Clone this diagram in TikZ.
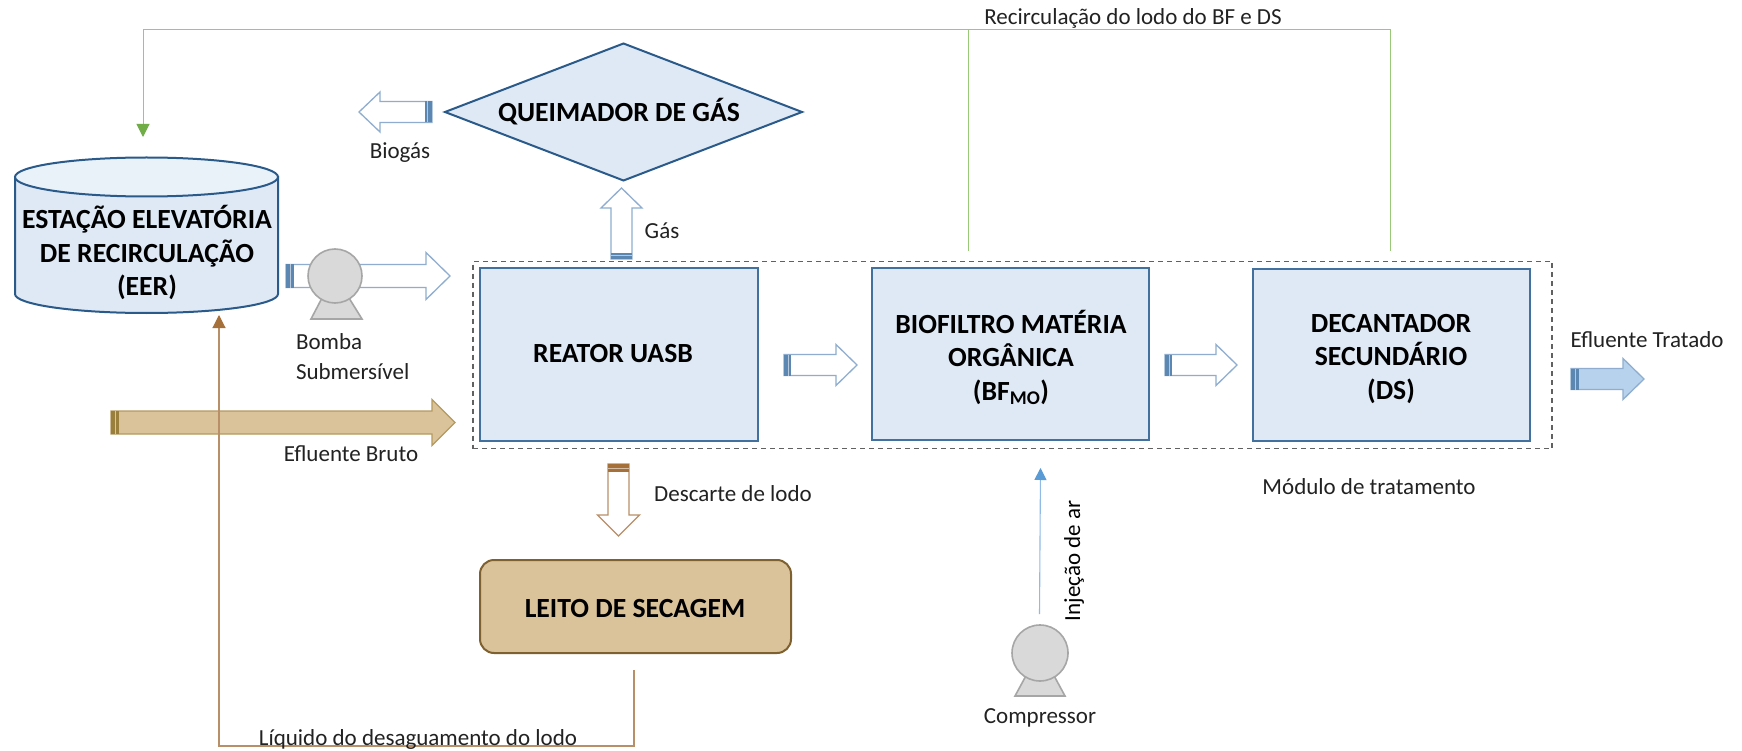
\documentclass[tikz,border=0pt]{standalone}
\usepackage{fontspec}
\setmainfont{Carlito}
\usetikzlibrary{calc,arrows.meta,shapes.geometric}
\definecolor{boxfill}{HTML}{DEE9F5}
\definecolor{boxedge}{HTML}{41719C}
\definecolor{darkedge}{HTML}{2A5A8A}
\definecolor{topfill}{HTML}{E9F1F9}
\definecolor{arrowedge}{HTML}{8FAECF}
\definecolor{bandblue}{HTML}{5B87B2}
\definecolor{tan}{HTML}{DAC39A}
\definecolor{tanedge}{HTML}{B49A5E}
\definecolor{tanband}{HTML}{9A7F3C}
\definecolor{brownline}{HTML}{B98F68}
\definecolor{brownhead}{HTML}{A5703A}
\definecolor{leitoedge}{HTML}{7F6030}
\definecolor{greenline}{HTML}{9AC879}
\definecolor{greenhead}{HTML}{70AD47}
\definecolor{blueline}{HTML}{8FBBE6}
\definecolor{bluehead}{HTML}{5B9BD5}
\definecolor{pumpfill}{HTML}{D9D9D9}
\definecolor{pumpedge}{HTML}{A6A6A6}
\definecolor{treated}{HTML}{B7D2EC}
\definecolor{labeltxt}{HTML}{222222}
\tikzset{
  x=1pt,y=-1pt,
  every node/.style={inner sep=0pt,outer sep=0pt,align=center},
  boldtxt/.style={text=black,font=\fontsize{27.7}{33.5}\selectfont\bfseries},
  unit/.style={draw=boxedge,line width=2pt,fill=boxfill,boldtxt},
  label/.style={text=labeltxt,font=\fontsize{23}{30}\selectfont},
  hollow/.style={draw=arrowedge,fill=white,line width=1.3pt},
  pumpbody/.style={draw=pumpedge,fill=pumpfill,line width=1.6pt},
  flowgreen/.style={draw=greenline,line width=1pt},
  flowbrown/.style={draw=brownline,line width=1.1pt},
  flowblue/.style={draw=blueline,line width=1.1pt},
}
% \blockarrow{style}{band colour}{from}{to}{half shaft}{half head}{head length}{band}
\newcommand{\blockarrow}[8]{%
  \coordinate (hb) at ($(#4)!#7pt!(#3)$);
  \coordinate (bb) at ($(#3)!#8pt!(#4)$);
  \coordinate (bm) at ($(#3)!0.6!(bb)$);
  \draw[#1,line join=miter] ($(#3)!#5pt!90:(#4)$) -- ($(hb)!#5pt!90:(#4)$) -- ($(hb)!#6pt!90:(#4)$) -- (#4)
    -- ($(hb)!#6pt!-90:(#4)$) -- ($(hb)!#5pt!-90:(#4)$) -- ($(#3)!#5pt!-90:(#4)$) -- cycle;
  \fill[#2] ($(#3)!#5pt!90:(#4)$) -- ($(bb)!#5pt!90:(#4)$) -- ($(bb)!#5pt!-90:(#4)$) -- ($(#3)!#5pt!-90:(#4)$) -- cycle;
  \draw[white,opacity=.55,line width=1pt] ($(bm)!#5pt!90:(#4)$) -- ($(bm)!#5pt!-90:(#4)$);
}
\begin{document}
\begin{tikzpicture}
\useasboundingbox (0,0) rectangle (1742,751);
\fill[white] (0,0) rectangle (1742,751);

% dashed module frame
\node[draw=black!62,line width=1.2pt,minimum width=1079pt,minimum height=187.5pt,dash pattern=on 5pt off 4pt] (modulo) at (1012.5,355) {};

% units
\node[unit,minimum width=278pt,minimum height=172pt] (uasb) at (619,354.5) {};
\node[boldtxt] (uasbtxt) at (613,354) {REATOR UASB};
\node[unit,minimum width=277pt,minimum height=171pt] (bf) at (1010.5,354) {};
\node[boldtxt] (bftxt) at (1011,357.5) {BIOFILTRO MATÉRIA\\ORGÂNICA\\(BF\textsubscript{MO})};
\node[unit,minimum width=277pt,minimum height=172pt] (ds) at (1391.5,355) {};
\node[boldtxt] (dstxt) at (1391,359) {DECANTADOR\\SECUNDÁRIO\\(DS)};
\node[unit,draw=darkedge,shape=diamond,aspect=2.6,minimum width=357pt,minimum height=137pt,inner sep=0pt] (gas) at (623.5,112) {};
\node[boldtxt] (gastxt) at (619,112) {QUEIMADOR DE GÁS};
\node[unit,draw=leitoedge,fill=tan,rounded corners=14pt,minimum width=311pt,minimum height=93pt] (leito) at (635.5,606.5) {};
\node[boldtxt] (leitotxt) at (635,608.5) {LEITO DE SECAGEM};

% EER tank
\draw[draw=darkedge,line width=2pt,fill=boxfill] (15,177) -- (15,294) arc[start angle=180,end angle=0,x radius=131.5,y radius=19] -- (278,177) -- cycle;
\draw[draw=darkedge,line width=2pt,fill=topfill] (146.5,177) ellipse[x radius=131.5,y radius=19.5];
\node[boldtxt] (eer) at (147,252.5) {ESTAÇÃO ELEVATÓRIA\\DE RECIRCULAÇÃO\\(EER)};

% block arrows
\coordinate (a1) at (286,276);   \coordinate (a2) at (450,276);
\blockarrow{hollow}{bandblue}{a1}{a2}{11.5}{23.5}{24}{8}
\coordinate (b1) at (111,422.5); \coordinate (b2) at (455,422.5);
\blockarrow{draw=tanedge,fill=tan,line width=1.3pt}{tanband}{b1}{b2}{11.5}{23}{23}{8}
\coordinate (c1) at (432,112);   \coordinate (c2) at (359,112);
\blockarrow{hollow}{bandblue}{c1}{c2}{10.5}{20}{21}{7}
\coordinate (d1) at (621.5,259); \coordinate (d2) at (621.5,188);
\blockarrow{hollow}{bandblue}{d1}{d2}{10.5}{20.5}{20}{6}
\coordinate (e1) at (784,365);   \coordinate (e2) at (857,365);
\blockarrow{hollow}{bandblue}{e1}{e2}{10.5}{20.5}{21}{7}
\coordinate (f1) at (1165,365);  \coordinate (f2) at (1237,365);
\blockarrow{hollow}{bandblue}{f1}{f2}{10.5}{20.5}{21}{7}
\coordinate (g1) at (1571,379);  \coordinate (g2) at (1644,379);
\blockarrow{draw=arrowedge,fill=treated,line width=1.3pt}{bandblue}{g1}{g2}{10.5}{20.5}{21}{8}
\coordinate (h1) at (618.5,464); \coordinate (h2) at (618.5,536);
\blockarrow{draw=brownline,fill=white,line width=1.3pt}{brownhead}{h1}{h2}{10.5}{21}{21}{8}

% pumps
\draw[pumpbody,line join=miter] (322,298) -- (311,319) -- (362,319) -- (349,298) -- cycle;
\node[pumpbody,circle,minimum size=54pt] (bomba) at (335,276) {};
\draw[pumpbody,line join=miter] (1028,672) -- (1015,696) -- (1065,696) -- (1052,672) -- cycle;
\node[pumpbody,circle,minimum size=56pt] (comp) at (1040,653) {};

% line connectors
\coordinate (g0) at (968,251);
\coordinate (g3) at (1390,251);
\coordinate (gtop) at (1390,30);
\coordinate (gj) at (968,30);
\coordinate (gl) at (143,30);
\coordinate (gtip) at (143,137);
\draw[flowgreen,-{Triangle[length=13pt,width=13pt,color=greenhead]}] (g3) -- (gtop) -- (gl) -- (gtip);
\draw[flowgreen] (g0) -- (gj);

\coordinate (br0) at (634,670);
\coordinate (br1) at (634,746);
\coordinate (br2) at (219,746);
\coordinate (br3) at (219,315);
\draw[flowbrown,-{Triangle[length=13pt,width=13pt,color=brownhead]}] (br0) -- (br1) -- (br2) -- (br3);

\coordinate (bl0) at (1039.5,614);
\coordinate (bl1) at (1040.5,468);
\draw[flowblue,-{Triangle[length=12pt,width=12pt,color=bluehead]}] (bl0) -- (bl1);

% labels
\node[label] (t1) at (1133,18) {Recirculação do lodo do BF e DS};
\node[label] (t2) at (400,153) {Biogás};
\node[label] (t3) at (662,231) {Gás};
\node[label,align=left,anchor=west] (t4) at (296,357) {Bomba\\Submersível};
\node[label] (t5) at (351,454) {Efluente Bruto};
\node[label] (t6) at (733,494) {Descarte de lodo};
\node[label] (t7) at (418,739) {Líquido do desaguamento do lodo};
\node[label] (t8) at (1369,487) {Módulo de tratamento};
\node[label] (t9) at (1647,340) {Efluente Tratado};
\node[label] (t10) at (1040,718) {Compressor};
\node[label,text=black,rotate=90] (t11) at (1074,561) {Injeção de ar};
\end{tikzpicture}
\end{document}
